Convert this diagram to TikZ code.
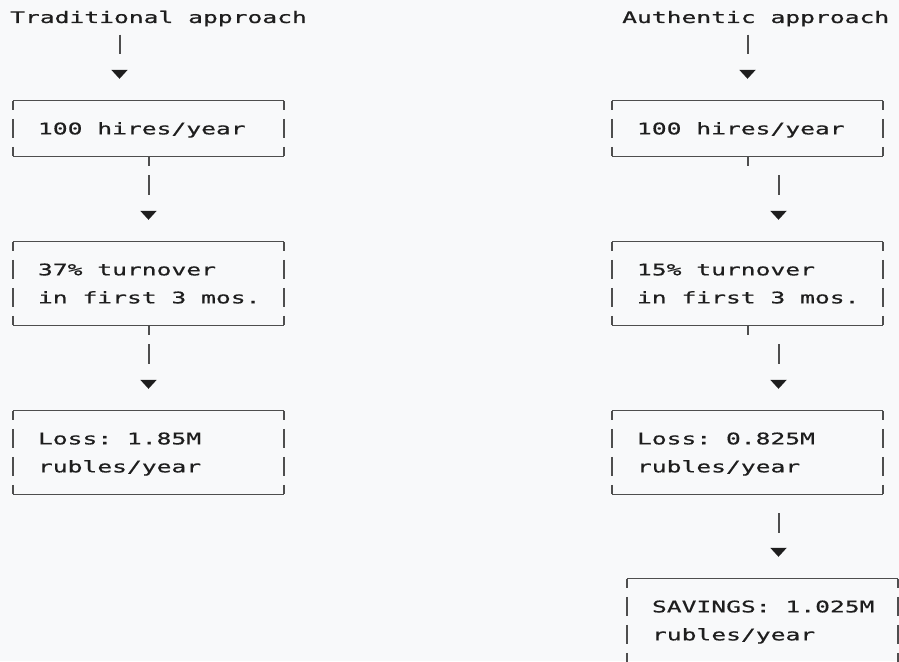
\documentclass[tikz,border=0pt]{standalone}
\usepackage{fontspec}
\newfontfamily\asciifont[FakeStretch=1.54,FakeBold=0.6,WordSpace={1,0,0}]{DejaVu Sans Mono}
\usetikzlibrary{arrows.meta,calc}
\hfuzz=30pt
\definecolor{paper}{RGB}{248,249,250}
\definecolor{ink}{RGB}{30,30,30}
\definecolor{rule}{RGB}{78,78,78}
\tikzset{
  title/.style={inner sep=0pt,anchor=base west,text=ink,
    font=\asciifont\fontsize{16}{28}\selectfont},
  asciibox/.style={inner sep=0pt,minimum width=271pt,minimum height=55pt,
    text width=226pt,text height=11.7pt,text depth=0pt,text=ink,
    font=\asciifont\fontsize{16}{28}\selectfont,
    execute at begin node={\spaceskip=14.83pt\xspaceskip=14.83pt\leftskip=2.5pt\relax}},
  tworow/.style={text depth=28pt,minimum height=83pt},
  hline/.style={rule,line width=1.3pt},
  vline/.style={rule,line width=2pt,dash pattern=on 19pt off 9pt,dash phase=10pt},
  tick/.style={rule,line width=2pt},
  flow/.style={rule,line width=2pt,dash pattern=on 19.5pt off 60pt,shorten >=22pt,
    -{Triangle[length=9pt,width=16pt,color=ink]}},
}
\begin{document}
\begin{tikzpicture}[x=1pt,y=-1pt]
\fill[paper] (0,0) rectangle (899,661);
\useasboundingbox (0,0) rectangle (899,661);
%
\node[title] (t1) at (10,23) {Traditional approach};
\node[title] (t2) at (622,23) {Authentic approach};
%
\node[asciibox] (b11) at (148.5,128.5) {100 hires/year};
\node[asciibox,tworow] (b12) at (148.5,283.5) {37\% turnover\\in first 3 mos.};
\node[asciibox,tworow] (b13) at (148.5,452.5) {Loss: 1.85M\\rubles/year};
%
\node[asciibox] (b21) at (747.5,128.5) {100 hires/year};
\node[asciibox,tworow] (b22) at (747.5,283.5) {15\% turnover\\in first 3 mos.};
\node[asciibox,tworow] (b23) at (747.5,452.5) {Loss: 0.825M\\rubles/year};
\node[asciibox,tworow] (b24) at (762.5,620.5) {SAVINGS: 1.025M\\rubles/year};
%
\foreach \b in {b11,b12,b13,b21,b22,b23,b24} {
  \draw[hline] (\b.north west) -- (\b.north east);
  \draw[hline] (\b.south west) -- (\b.south east);
  \draw[vline] (\b.north west) -- (\b.south west);
  \draw[vline] (\b.north east) -- (\b.south east);
}
%
\draw[flow] ($(t1.south west -| b11.north)+(-29,8)$) -- ($(b11.north)+(-29,0)$);
\draw[tick] (b11.south) -- ++(0,10);
\draw[flow] ($(b11.south)+(0,19)$) -- (b12.north);
\draw[tick] (b12.south) -- ++(0,10);
\draw[flow] ($(b12.south)+(0,19)$) -- (b13.north);
%
\draw[flow] ($(t2.south -| b21.north)+(0,8)$) -- (b21.north);
\draw[tick] (b21.south) -- ++(0,10);
\draw[flow] ($(b21.south)+(31,19)$) -- ($(b22.north)+(31,0)$);
\draw[tick] (b22.south) -- ++(0,10);
\draw[flow] ($(b22.south)+(31,19)$) -- ($(b23.north)+(31,0)$);
\draw[flow] ($(b23.south)+(31,19)$) -- ($(b24.north)+(16,0)$);
%
\end{tikzpicture}
\end{document}
